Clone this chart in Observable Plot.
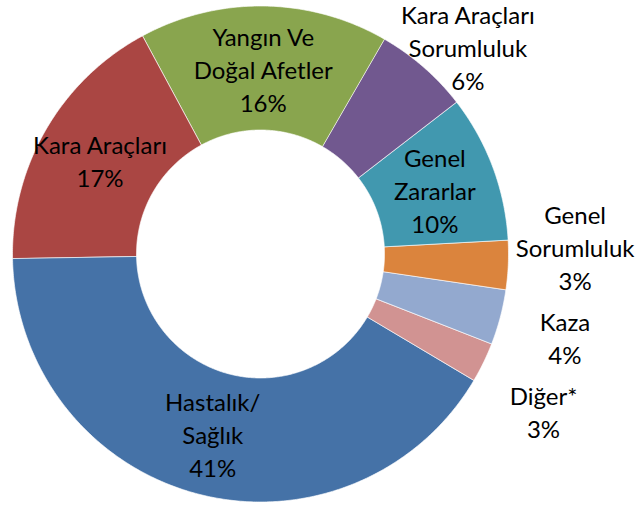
<!DOCTYPE html>
<html>
<head>
<meta charset="utf-8">
<script src="https://cdn.jsdelivr.net/npm/d3@7"></script>
<script src="https://cdn.jsdelivr.net/npm/@observablehq/plot@0.6"></script>
<style>
  html, body { margin: 0; padding: 0; background: #fff; }
</style>
</head>
<body>
<div id="chart"></div>
<script>
// ---- data ----
const categories = ["Kara Araçları Sorumluluk", "Genel Zararlar", "Genel Sorumluluk", "Kaza", "Diğer*", "Hastalık/Sağlık", "Kara Araçları", "Yangın Ve Doğal Afetler"];
const values = [6.2, 9.6, 3.2, 3.6, 2.6, 41.2, 17.4, 16.2];
const labelTexts = ["Kara Araçları\nSorumluluk", "Genel\nZararlar", "Genel\nSorumluluk", "Kaza", "Diğer*", "Hastalık/\nSağlık", "Kara Araçları", "Yangın Ve\nDoğal Afetler"];
const colors = ["#71588F", "#4198AF", "#DB843D", "#93A9CF", "#D19392", "#4572A7", "#AA4643", "#89A54E"];

// ---- layout ----
const W = 643, H = 506;
const CX = 260, CY = 253.5, R = 248;
const INNER = 0.5;
const START = 30 * Math.PI / 180;
const FS = 24, LH = 33, CAP = 16, GAP = 8;

const total = d3.sum(values);
const pie = d3.pie().sort(null).value(d => d).startAngle(START).endAngle(START + 2 * Math.PI);
const arcs = pie(values);

// polygon points for each ring segment
const pts = [];
arcs.forEach((a, i) => {
  const n = Math.max(4, Math.ceil((a.endAngle - a.startAngle) / (Math.PI / 360)));
  for (let k = 0; k <= n; k++) {
    const t = a.startAngle + (a.endAngle - a.startAngle) * k / n;
    pts.push({name: categories[i], x: Math.sin(t), y: Math.cos(t)});
  }
  for (let k = n; k >= 0; k--) {
    const t = a.startAngle + (a.endAngle - a.startAngle) * k / n;
    pts.push({name: categories[i], x: INNER * Math.sin(t), y: INNER * Math.cos(t)});
  }
});

// labels (positions computed in pixel space, converted back to data units)
const labels = arcs.map((a, i) => {
  const pct = values[i] / total * 100;
  const mid = (a.startAngle + a.endAngle) / 2;
  const outside = pct < 8;
  const r = outside ? 1.27 : 0.75;
  const text = labelTexts[i] + "\n" + Math.round(pct) + "%";
  const nLines = text.split("\n").length;
  const px = CX + R * r * Math.sin(mid);
  let py = CY - R * r * Math.cos(mid);
  // keep label inside the top edge
  const halfVis = ((nLines - 1) * LH + CAP) / 2;
  if (py - halfVis < 5) py = 5 + halfVis;
  return {px, py, text, outside, half: nLines * LH / 2};
});

// resolve vertical overlaps among outside labels on the right side
const side = labels.filter(d => d.outside && d.px > CX).sort((a, b) => a.py - b.py);
for (let it = 0; it < 200; it++) {
  for (let j = 1; j < side.length; j++) {
    const a = side[j - 1], b = side[j];
    const need = a.half + b.half + GAP - (b.py - a.py);
    if (need > 0) { a.py -= need / 2; b.py += need / 2; }
  }
}
labels.forEach(d => { d.x = (d.px - CX) / R; d.y = (CY - d.py) / R; });

const chart = Plot.plot({
  width: W,
  height: H,
  margin: 0,
  x: {domain: [-1, 1], range: [CX - R, CX + R], axis: null},
  y: {domain: [-1, 1], range: [CY + R, CY - R], axis: null},
  color: {domain: categories, range: colors},
  style: {background: "#fff", overflow: "visible"},
  marks: [
    Plot.line(pts, {x: "x", y: "y", z: "name", fill: "name", stroke: "#fff", strokeWidth: 0.8, strokeOpacity: 0.8, curve: "linear-closed"}),
    Plot.text(labels, {x: "x", y: "y", text: "text", fill: "#000", fontSize: FS, lineHeight: LH / FS, fontFamily: "Lato", textAnchor: "middle", lineAnchor: "middle"})
  ]
});
document.getElementById("chart").appendChild(chart);
</script>
</body>
</html>
